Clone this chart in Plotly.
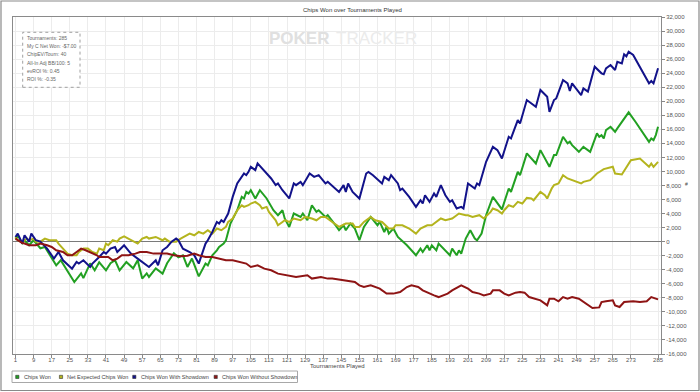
import plotly.graph_objects as go

# ---------------- data ----------------
won_t = [1, 2, 4, 5, 7, 9, 12, 14, 19, 21, 27, 30, 31, 34, 36, 38, 41, 43, 45, 47, 50, 53, 55, 57, 59, 60, 63, 66,
         68, 71, 73, 75, 77, 79, 82, 85, 86, 88, 90, 91, 93, 94, 96, 99, 101, 102, 103, 104, 105, 107, 109, 112, 115,
         117, 119, 120, 122, 124, 127, 128, 130, 132, 134, 135, 138, 139, 143, 144, 146, 147, 149, 151, 153, 155,
         158, 161, 162, 164, 165, 166, 168, 170, 174, 178, 180, 181, 183, 184, 185, 187, 188, 190, 193, 194, 196,
         197, 198, 200, 202, 204, 205, 207, 209, 212, 214, 216, 219, 220, 223, 224, 227, 230, 231, 233, 237, 239,
         240, 243, 245, 246, 247, 250, 252, 255, 258, 259, 260, 261, 262, 264, 266, 267, 270, 271, 272, 275, 281,
         282, 283, 284, 285]
won_v = [400, 900, -230, 200, -500, 200, -940, -760, -3370, -2650, -5750, -4510, -5200, -3080, -4080, -2940, -4080,
         -3080, -2650, -4080, -2900, -3800, -2650, -5260, -4510, -5030, -3800, -4550, -3080, -1650, -2220, -1940,
         -3600, -2410, -4940, -3120, -3370, -1940, -1230, -750, -270, 200, 2580, 4480, 6380, 6150, 7090, 6850, 7330,
         6150, 7330, 6150, 4480, 3770, 4480, 3300, 2100, 4010, 3520, 4010, 3050, 5190, 4240, 4480, 3520, 3770, 2100,
         1630, 2340, 1630, 2580, 1870, 200, 2100, 3520, 2340, 2810, 1380, 2100, 1150, 1870, 670, -510, -1940, -990,
         -1470, -510, -1230, -510, -1230, -270, -990, -1940, -990, -1940, -1230, -1700, 440, 1630, 440, 200, 1150,
         3770, 6380, 5430, 4600, 7570, 7090, 9940, 9470, 12570, 11370, 11130, 13040, 10660, 12330, 12330, 14940,
         14000, 14240, 13750, 12800, 13510, 12800, 15420, 14940, 15180, 14710, 15890, 16360, 15650, 16130, 17560,
         18030, 18420, 17080, 14220, 14710, 14460, 15180, 16360]

nex_t = [1, 2, 4, 6, 7, 9, 10, 12, 14, 16, 19, 20, 22, 24, 26, 28, 29, 31, 33, 35, 37, 38, 40, 41, 42, 44, 46, 47,
         49, 51, 53, 55, 57, 59, 60, 63, 66, 67, 69, 72, 74, 77, 78, 80, 82, 84, 86, 88, 90, 92, 94, 95, 97, 99, 101,
         102, 104, 105, 107, 109, 110, 112, 113, 116, 117, 119, 120, 122, 124, 127, 129, 132, 134, 136, 138, 141, 144,
         147, 150, 151, 153, 155, 158, 160, 163, 166, 168, 169, 172, 175, 178, 180, 183, 185, 187, 189, 191, 194,
         196, 197, 200, 201, 203, 206, 208, 211, 212, 214, 216, 217, 219, 221, 223, 225, 227, 229, 230, 233, 235,
         236, 238, 239, 241, 243, 245, 247, 251, 252, 255, 258, 260, 261, 265, 266, 269, 271, 273, 277, 281, 282, 283,
         285]
nex_v = [670, 200, -70, 440, 200, 440, 0, 0, 440, 200, 200, -270, -990, -1700, -1940, -1940, -1470, -990, -990,
         -1470, -1700, -990, -1230, -270, -510, 200, 0, 440, 770, 440, 0, -270, 440, 670, 440, 670, 200, 440, 0, 0,
         440, 910, 1150, 910, 1380, 1150, 1630, 1150, 1870, 1630, 2100, 2810, 3300, 4480, 5190, 4950, 5190, 5430,
         5660, 5190, 4720, 4950, 4240, 3050, 2340, 2810, 3050, 2810, 3300, 3050, 3520, 3300, 3050, 3520, 3520, 2810,
         2100, 2580, 2580, 2100, 2100, 2810, 3520, 3050, 2810, 1870, 1870, 2340, 2340, 1870, 1150, 1870, 2340, 2340,
         2810, 3300, 3050, 3300, 3770, 4010, 3770, 3770, 3520, 3770, 3300, 4240, 4720, 4480, 4010, 4480, 5190, 4950,
         5660, 5430, 6230, 6150, 5900, 7090, 6620, 6150, 7570, 8050, 8290, 9470, 9000, 8760, 8290, 8520, 8760, 9710,
         10190, 10330, 10660, 9710, 9570, 10660, 11610, 11850, 10660, 11140, 10660, 11370]

sd_t = [1, 2, 4, 5, 7, 8, 10, 12, 15, 18, 20, 22, 26, 28, 29, 31, 34, 35, 38, 40, 41, 43, 45, 46, 49, 52, 55, 57,
        58, 60, 63, 64, 66, 68, 70, 72, 73, 75, 78, 80, 82, 85, 86, 88, 90, 91, 92, 93, 95, 97, 99, 102, 103, 104,
        105, 107, 108, 110, 114, 116, 117, 119, 122, 124, 125, 127, 128, 131, 133, 135, 138, 139, 144, 146, 147,
        148, 150, 153, 156, 157, 159, 163, 164, 166, 167, 170, 171, 172, 175, 178, 180, 181, 182, 184, 186, 187,
        188, 189, 191, 193, 194, 195, 196, 198, 199, 201, 202, 204, 205, 206, 209, 212, 214, 216, 219, 220, 223,
        224, 227, 230, 231, 233, 235, 236, 237, 239, 240, 243, 245, 246, 247, 251, 252, 254, 257, 260, 261, 262,
        264, 266, 267, 269, 270, 271, 272, 274, 281, 282, 283, 285]
sd_v = [670, 1150, -270, 910, 0, 1150, 200, 0, -990, -2410, -1470, -2650, -3840, -2890, -3120, -2650, -3610, -3120,
        -2180, -1470, -1700, -990, -760, -1470, -510, -1700, -2410, -2890, -3120, -3610, -2650, -3370, -1230, -760,
        0, 440, 200, -1000, -1470, -1940, -3120, -270, 200, 1380, 2810, 2580, 3050, 2810, 4010, 6380, 8290, 9710,
        9470, 9940, 10660, 10190, 11140, 10430, 9000, 8050, 8290, 7330, 6150, 8290, 8050, 8520, 8050, 9710, 9230,
        9470, 8290, 8520, 7090, 8050, 7090, 8290, 7090, 6150, 9710, 9940, 9470, 8290, 9230, 8760, 9470, 8290, 7330,
        7570, 6380, 4950, 5900, 5430, 6620, 5660, 6860, 6380, 7330, 8050, 6620, 5660, 5900, 5190, 4720, 4950, 4720,
        8290, 8050, 7570, 8290, 8050, 11370, 13510, 13040, 11850, 14940, 14700, 17320, 16840, 20170, 19460, 19220,
        21600, 20880, 20640, 18500, 20170, 20400, 23020, 22550, 21450, 22550, 20880, 21840, 21370, 24920, 23980,
        23840, 24690, 25160, 24450, 25630, 25400, 26690, 26400, 27060, 26590, 22550, 22880, 22550, 24690]

nsd_t = [1, 4, 5, 7, 10, 12, 15, 17, 19, 22, 24, 26, 28, 30, 32, 34, 37, 38, 42, 44, 46, 48, 51, 54, 56, 59, 62,
         65, 68, 71, 74, 77, 80, 82, 85, 88, 91, 94, 97, 100, 103, 105, 108, 111, 114, 117, 121, 125, 130, 132, 136,
         139, 141, 144, 149, 151, 153, 155, 158, 160, 162, 165, 168, 171, 174, 176, 179, 181, 184, 186, 188, 192,
         194, 197, 198, 201, 203, 206, 208, 211, 212, 215, 217, 219, 222, 224, 226, 228, 231, 233, 235, 236, 237,
         239, 241, 243, 245, 247, 250, 252, 254, 256, 259, 260, 262, 265, 266, 268, 270, 274, 277, 280, 282, 285]
nsd_v = [440, -200, -270, -510, -510, -270, -510, -760, -1230, -1470, -1940, -1940, -1470, -990, -1230, -1470,
         -1940, -2180, -2180, -2650, -2410, -1940, -1940, -1700, -1470, -1470, -1700, -1700, -1700, -1940, -2080,
         -2000, -1700, -1940, -2180, -2180, -2410, -2650, -2650, -2890, -3120, -3610, -3370, -3840, -4080, -4550,
         -4790, -5030, -4790, -5260, -5030, -5260, -5260, -5410, -5750, -5750, -6220, -6460, -6220, -6460, -6690,
         -7400, -7400, -7180, -6460, -6220, -6460, -6930, -7400, -7650, -7890, -7400, -6930, -6460, -6220, -6690,
         -7180, -7400, -7650, -7400, -6930, -6930, -7400, -7650, -7260, -7180, -7260, -7890, -8120, -8360, -8830,
         -9070, -8120, -8120, -8500, -7890, -8120, -7890, -8120, -8600, -9070, -9450, -9360, -8600, -8500, -8360,
         -9070, -9310, -8600, -8500, -8600, -8500, -7890, -8220]

x_ticks = [1, 9, 17, 25, 33, 41, 49, 57, 65, 73, 81, 89, 97, 105, 113, 121, 129, 137, 145, 153, 161, 169, 177,
           185, 193, 201, 209, 217, 225, 233, 241, 249, 257, 265, 273, 285]
y_ticks = list(range(-16000, 32001, 2000))

series_names = ["Chips Won", "Net Expected Chips Won", "Chips Won With Showdown", "Chips Won Without Showdown"]
series_colors = ["#22a022", "#b4b41e", "#12128a", "#8e1414"]

stats_lines = ["Tournaments: 285", "My C Net Won: -$7.00", "ChipEV/Tourn: 40", "All-In Adj BB/100: 5",
               "evROI %: 0.45", "ROI %: -0.35"]

# ---------------- geometry helpers ----------------
W, H = 700, 392
L, R, T, B = 13, 661, 17, 354
PW, PH = R - L, B - T


def px(x):
    return (x - L) / PW


def py(y):
    return (B - y) / PH


FONT = "Liberation Sans, Arial, sans-serif"

fig = go.Figure()
for t, v, name, col in zip([won_t, nex_t, sd_t, nsd_t], [won_v, nex_v, sd_v, nsd_v], series_names, series_colors):
    fig.add_trace(go.Scatter(x=t, y=v, mode="lines", name=name, showlegend=False,
                             line=dict(color=col, width=2), hoverinfo="x+y+name"))

fig.update_layout(
    width=W, height=H,
    margin=dict(l=L, r=W - R, t=T, b=H - B, pad=0),
    paper_bgcolor="white", plot_bgcolor="white",
    font=dict(family=FONT, size=6, color="#555555"),
    showlegend=False,
)
fig.update_xaxes(range=[-0.1, 286.3], tickvals=x_ticks, ticktext=[str(v) for v in x_ticks],
                 ticks="outside", ticklen=3, tickcolor="#888888", tickfont=dict(size=6, color="#555555"),
                 ticklabelstandoff=-3,
                 showgrid=True, gridcolor="#ececec", gridwidth=1,
                 showline=True, linecolor="#8a8a8a", linewidth=1, mirror=True, zeroline=False)
fig.update_yaxes(range=[-16000, 32000], tickvals=y_ticks, ticktext=[f"{v:,}" for v in y_ticks],
                 side="right", ticks="outside", ticklen=3, tickcolor="#888888",
                 tickfont=dict(size=6, color="#555555"),
                 showgrid=True, gridcolor="#ececec", gridwidth=1,
                 showline=True, linecolor="#8a8a8a", linewidth=1, mirror=True,
                 zeroline=True, zerolinecolor="#7a7a7a", zerolinewidth=1)

shapes = []
annotations = []

# outer frame of the image
shapes.append(dict(type="rect", xref="paper", yref="paper", x0=px(1), x1=px(699), y0=py(390.5), y1=py(1),
                   line=dict(color="#8a8a8a", width=1.2), fillcolor="rgba(0,0,0,0)", layer="below"))

# title
annotations.append(dict(text="Chips Won over Tournaments Played", xref="paper", yref="paper",
                        x=px(352), y=py(10), showarrow=False, xanchor="center", yanchor="middle",
                        font=dict(size=6, color="#333333")))

# watermark
annotations.append(dict(text="<b>POKER</b>", xref="paper", yref="paper", x=px(331), y=py(38.5),
                        showarrow=False, xanchor="right", yanchor="middle",
                        font=dict(size=17, color="#e0e0e0", family=FONT)))
annotations.append(dict(text="TRACKER", xref="paper", yref="paper", x=px(334), y=py(38.5),
                        showarrow=False, xanchor="left", yanchor="middle",
                        font=dict(size=17, color="#ebebeb", family=FONT)))

# axis titles
annotations.append(dict(text="Tournaments Played", xref="paper", yref="paper", x=px(337), y=py(366),
                        showarrow=False, xanchor="center", yanchor="middle", font=dict(size=6, color="#444444")))
annotations.append(dict(text="#", xref="paper", yref="paper", x=px(686), y=py(184),
                        showarrow=False, xanchor="center", yanchor="middle", font=dict(size=5, color="#444444")))

# stats box
shapes.append(dict(type="rect", xref="paper", yref="paper", x0=px(22.7), x1=px(80), y0=py(87.3), y1=py(32.3),
                   line=dict(color="#a0a0a0", width=1, dash="dot"), fillcolor="white"))
stat_y = [37.7, 45.9, 54.2, 62.5, 70.8, 79.2]
for txt, yy in zip(stats_lines, stat_y):
    annotations.append(dict(text=txt, xref="paper", yref="paper", x=px(25), y=py(yy), showarrow=False,
                            xanchor="left", yanchor="middle", font=dict(size=5, color="#666666")))

# legend box
shapes.append(dict(type="rect", xref="paper", yref="paper", x0=px(12), x1=px(297.5), y0=py(382.5), y1=py(371),
                   line=dict(color="#a8a8a8", width=1), fillcolor="white"))
leg_sq_x = [17.3, 61, 134.3, 215.7]
leg_tx_x = [21.5, 65.2, 138.6, 220]
for name, col, sx, tx in zip(series_names, series_colors, leg_sq_x, leg_tx_x):
    shapes.append(dict(type="rect", xref="paper", yref="paper", x0=px(sx - 1.6), x1=px(sx + 1.6),
                       y0=py(378.5), y1=py(375.3), line=dict(color="#333333", width=0.6), fillcolor=col))
    annotations.append(dict(text=name, xref="paper", yref="paper", x=px(tx), y=py(377), showarrow=False,
                            xanchor="left", yanchor="middle", font=dict(size=5.5, color="#444444")))

fig.update_layout(shapes=shapes, annotations=annotations)
fig.write_html("out.html", config={"displayModeBar": False},
               post_script="document.body.style.margin='0';document.body.style.padding='0';")
